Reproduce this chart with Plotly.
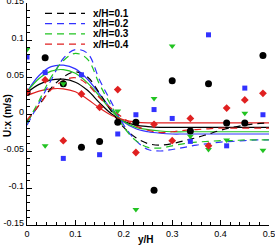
import plotly.graph_objects as go

# ---- data ----
line_x = [0, 0.025, 0.05, 0.075, 0.1, 0.125, 0.15, 0.175, 0.2, 0.225, 0.25,
          0.275, 0.3, 0.325, 0.35, 0.375, 0.4, 0.425, 0.45, 0.475, 0.5]

solid_black = [0.029, 0.040, 0.046, 0.047, 0.043, 0.032, 0.015, 0.000, -0.010, -0.015, -0.017,
               -0.018, -0.018, -0.018, -0.018, -0.018, -0.018, -0.018, -0.018, -0.018, -0.018]
solid_blue = [0.030, 0.052, 0.064, 0.066, 0.061, 0.047, 0.027, 0.006, -0.011, -0.020, -0.024,
              -0.026, -0.027, -0.027, -0.027, -0.027, -0.027, -0.027, -0.027, -0.027, -0.027]
solid_green = [0.030, 0.048, 0.058, 0.060, 0.055, 0.042, 0.024, 0.004, -0.010, -0.018, -0.021,
               -0.023, -0.024, -0.024, -0.024, -0.024, -0.024, -0.024, -0.024, -0.024, -0.024]
solid_red = [0.025, 0.031, 0.034, 0.034, 0.030, 0.020, 0.008, -0.002, -0.008, -0.011, -0.012,
             -0.012, -0.012, -0.012, -0.012, -0.012, -0.012, -0.012, -0.012, -0.012, -0.012]

dash_black = [-0.010, 0.012, 0.035, 0.050, 0.057, 0.050, 0.028, 0.003, -0.018, -0.032, -0.040,
              -0.042, -0.040, -0.036, -0.032, -0.027, -0.022, -0.018, -0.015, -0.013, -0.012]
dash_blue = [-0.015, 0.015, 0.046, 0.075, 0.087, 0.082, 0.046, 0.015, -0.015, -0.036, -0.048,
             -0.050, -0.048, -0.045, -0.042, -0.040, -0.038, -0.037, -0.036, -0.035, -0.035]
dash_green = [-0.012, 0.018, 0.050, 0.072, 0.082, 0.074, 0.040, 0.010, -0.018, -0.036, -0.045,
              -0.046, -0.043, -0.040, -0.038, -0.037, -0.036, -0.036, -0.035, -0.035, -0.035]
dash_red = [-0.008, 0.012, 0.033, 0.045, 0.049, 0.040, 0.022, 0.007, -0.006, -0.016, -0.022,
            -0.025, -0.024, -0.022, -0.021, -0.020, -0.019, -0.019, -0.019, -0.019, -0.019]

pts_x = [0, 0.0375, 0.075, 0.1125, 0.15, 0.1875, 0.225, 0.2625, 0.3, 0.3375, 0.375, 0.4125, 0.45, 0.4875]
pts_black = [0.029, 0.076, 0.041, -0.045, -0.037, -0.011, -0.011, -0.103, 0.045, -0.023, 0.041, -0.012, -0.012, 0.079]
pts_blue = [0.077, 0.056, -0.060, 0.053, -0.055, -0.027, -0.001, 0.006, -0.006, -0.037, 0.107, -0.043, 0.035, -0.001]
pts_green = [0.087, -0.043, 0.041, None, None, 0.004, -0.129, 0.021, 0.092, -0.030, -0.048, -0.035, 0.001, -0.049]
pts_red = [0.030, 0.046, -0.036, 0.027, 0.009, 0.033, -0.052, -0.014, -0.036, -0.006, -0.043, 0.008, 0.019, 0.028]

legend_labels = ["x/H=0.1", "x/H=0.2", "x/H=0.3", "x/H=0.4"]

x_ticks = [0, 0.1, 0.2, 0.3, 0.4, 0.5]
x_ticklabels = ["0", "0.1", "0.2", "0.3", "0.4", "0.5"]
y_ticks = [-0.15, -0.1, -0.05, 0, 0.05, 0.1, 0.15]
y_ticklabels = ["-0.15", "-0.1", "-0.05", "0", "0.05", "0.1", "0.15"]

x_title = "y/H"
y_title = "U:x (m/s)"

# ---- style ----
BLACK = "#000000"
BLUE = "#3232ff"
GREEN = "#22c322"
RED = "#e02020"
colors = [BLACK, BLUE, GREEN, RED]
DASH = "7px,5px"
FONT = "Liberation Sans, Arial"

fig = go.Figure()

for ys, c in zip([solid_black, solid_blue, solid_green, solid_red], colors):
    fig.add_trace(go.Scatter(x=line_x, y=ys, mode="lines", line=dict(color=c, width=1.2, shape="spline"),
                             showlegend=False, hoverinfo="skip"))
for ys, c in zip([dash_black, dash_blue, dash_green, dash_red], colors):
    fig.add_trace(go.Scatter(x=line_x, y=ys, mode="lines",
                             line=dict(color=c, width=1.2, dash=DASH, shape="spline"),
                             showlegend=False, hoverinfo="skip"))

fig.add_trace(go.Scatter(x=pts_x, y=pts_black, mode="markers",
                         marker=dict(symbol="circle", size=7, color=BLACK), showlegend=False))
fig.add_trace(go.Scatter(x=pts_x, y=pts_blue, mode="markers",
                         marker=dict(symbol="square", size=5, color=BLUE), showlegend=False))
fig.add_trace(go.Scatter(x=pts_x, y=pts_green, mode="markers",
                         marker=dict(symbol="triangle-down", size=6, color=GREEN), showlegend=False))
fig.add_trace(go.Scatter(x=pts_x, y=pts_red, mode="markers",
                         marker=dict(symbol="diamond", size=6, color=RED), showlegend=False))

# layout geometry (pixels)
L, R, T, B = 27, 6, 3, 21
W, H = 275 - L - R, 246 - T - B
def px2paper_x(px):
    return (px - L) / W
def px2paper_y(py):
    return (246 - B - py) / H

# legend (Tecplot style, drawn in paper coordinates)
rows = [13.3, 23.6, 33.9, 44.2]
for lab, c, py in zip(legend_labels, colors, rows):
    fig.add_shape(type="line", xref="paper", yref="paper",
                  x0=px2paper_x(45), x1=px2paper_x(85), y0=px2paper_y(py), y1=px2paper_y(py),
                  line=dict(color=c, width=1.2, dash=DASH))
    fig.add_annotation(xref="paper", yref="paper", x=px2paper_x(91), y=px2paper_y(py),
                       text="<b>%s</b>" % lab, showarrow=False, xanchor="left", yanchor="middle",
                       font=dict(family=FONT, size=10, color="black"))

# axis titles
fig.add_annotation(xref="paper", yref="paper", x=px2paper_x(146), y=px2paper_y(239),
                   text="<b>%s</b>" % x_title, showarrow=False, xanchor="center", yanchor="middle",
                   font=dict(family=FONT, size=10, color="black"))
fig.add_annotation(xref="paper", yref="paper", x=px2paper_x(7), y=px2paper_y(116),
                   text="<b>%s</b>" % y_title, showarrow=False, xanchor="center", yanchor="middle",
                   textangle=-90, font=dict(family=FONT, size=10, color="black"))

axis_common = dict(showline=True, linecolor="black", linewidth=1.3, mirror=False,
                   ticks="inside", ticklen=5, tickwidth=1.2, tickcolor="black",
                   showgrid=False, zeroline=False, automargin=False, ticklabeloverflow="allow",
                   tickfont=dict(family=FONT, size=9, color="black"))

fig.update_xaxes(range=[0, 0.5], tickvals=x_ticks, ticktext=x_ticklabels,
                 minor=dict(dtick=0.02, tick0=0, ticks="inside", ticklen=3, tickcolor="black", showgrid=False),
                 **axis_common)
fig.update_yaxes(range=[-0.15, 0.15], tickvals=y_ticks, ticktext=y_ticklabels, ticklabelshift=-2,
                 minor=dict(dtick=0.01, tick0=0, ticks="inside", ticklen=3, tickcolor="black", showgrid=False),
                 **axis_common)

fig.update_layout(width=275, height=246, margin=dict(l=L, r=R, t=T, b=B, autoexpand=False),
                  plot_bgcolor="white", paper_bgcolor="white", showlegend=False)

fig.write_html("out.html", config={"displayModeBar": False},
               post_script="document.body.style.margin='0';document.body.style.overflow='hidden';")
